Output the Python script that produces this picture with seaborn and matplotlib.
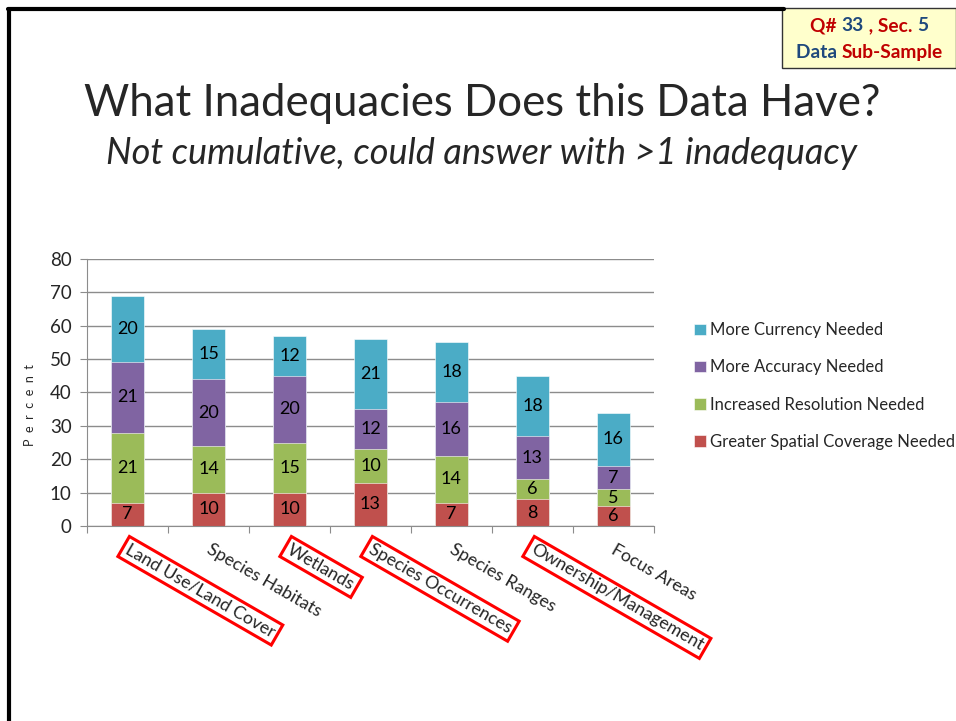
import matplotlib
matplotlib.use("Agg")
import matplotlib.pyplot as plt
from matplotlib.patches import Rectangle
import numpy as np
import pandas as pd
import seaborn as sns

# -------------------------
# Data
# -------------------------
categories = ["Land Use/Land Cover", "Species Habitats", "Wetlands",
              "Species Occurrences", "Species Ranges",
              "Ownership/Management", "Focus Areas"]
boxed = ["Land Use/Land Cover", "Wetlands", "Species Occurrences",
         "Ownership/Management"]

spatial = [7, 10, 10, 13, 7, 8, 6]        # Greater Spatial Coverage Needed
resolution = [21, 14, 15, 10, 14, 6, 5]   # Increased Resolution Needed
accuracy = [21, 20, 20, 12, 16, 13, 7]    # More Accuracy Needed
currency = [20, 15, 12, 21, 18, 18, 16]   # More Currency Needed

series_names = ["Greater Spatial Coverage Needed", "Increased Resolution Needed",
                "More Accuracy Needed", "More Currency Needed"]
series_vals = [spatial, resolution, accuracy, currency]
colors = ["#C0504D", "#9BBB59", "#8064A2", "#4BACC6"]

y_ticks = [0, 10, 20, 30, 40, 50, 60, 70, 80]

sns.set_style("white")
plt.rcParams["font.family"] = ["Lato", "DejaVu Sans"]

fig = plt.figure(figsize=(9.56, 7.21), dpi=100)
ax = fig.add_axes([0.091, 0.2705, 0.593, 0.3703])

# stacked bars: draw cumulative totals from the top layer down
cum = np.cumsum(np.array(series_vals), axis=0)
for i in range(3, -1, -1):
    df = pd.DataFrame({"cat": categories, "val": cum[i]})
    sns.barplot(data=df, x="cat", y="val", color=colors[i], width=0.4,
                saturation=1, ax=ax, label=series_names[i],
                edgecolor="white", linewidth=0.4)

# segment labels
for i in range(4):
    base = cum[i] - np.array(series_vals[i])
    for j, v in enumerate(series_vals[i]):
        ax.text(j, base[j] + v / 2, str(v), ha="center", va="center",
                fontsize=13, color="black")

ax.set_ylim(0, 80)
ax.set_xlim(-0.5, len(categories) - 0.5)
ax.set_yticks(y_ticks)
ax.yaxis.grid(True, color="#8c8c8c", linewidth=1)
ax.set_axisbelow(True)
for s in ["top", "right"]:
    ax.spines[s].set_visible(False)
for s in ["left", "bottom"]:
    ax.spines[s].set_color("#8c8c8c")
ax.tick_params(axis="y", which="both", left=True, length=5, color="#8c8c8c",
               labelsize=13.5, pad=6)
ax.set_xlabel("")
ax.set_ylabel("")

# category tick marks sit between bars
ax.set_xticks(np.arange(len(categories) + 1) - 0.5, minor=False)
ax.set_xticklabels([])
ax.tick_params(axis="x", which="major", bottom=True, length=5,
               color="#8c8c8c", direction="out")
for j, c in enumerate(categories):
    t = ax.text(j + 0.04, -4.6, c, rotation=-30, rotation_mode="anchor",
                ha="left", va="top", fontsize=12.8)
    if c in boxed:
        t.set_bbox(dict(boxstyle="square,pad=0.2", facecolor="none",
                        edgecolor="#FF0000", linewidth=2.2))

fig.text(0.031, 0.438, "P  e  r  c  e  n  t", rotation=90, ha="center",
         va="center", fontsize=9)

# legend
handles, labels = ax.get_legend_handles_labels()
ax.legend(handles, labels, loc="center left",
          bbox_to_anchor=(0.726, 0.4646), bbox_transform=fig.transFigure,
          frameon=False, fontsize=12.0, handlelength=0.7, handleheight=0.7,
          handletextpad=0.25, labelspacing=1.27, borderaxespad=0,
          borderpad=0)

# slide titles
fig.text(0.504, 0.857, "What Inadequacies Does this Data Have?",
         ha="center", va="center", fontsize=31.5)
fig.text(0.504, 0.787, "Not cumulative, could answer with >1 inadequacy",
         ha="center", va="center", fontsize=26, style="italic")

# slide frame lines
fig.add_artist(plt.Line2D([0.009, 0.009], [0, 0.988], color="black",
                          linewidth=3, transform=fig.transFigure))
fig.add_artist(plt.Line2D([0.008, 0.82], [0.988, 0.988], color="black",
                          linewidth=3, transform=fig.transFigure))

# question tag box
fig.add_artist(Rectangle((0.818, 0.906), 0.182, 0.083, transform=fig.transFigure,
                         facecolor="#FFFFCC", edgecolor="#333333", linewidth=1))

red, blue = "#C00000", "#1F497D"
renderer = fig.canvas.get_renderer()


def colored_line(xc, y, parts):
    texts = [fig.text(0, y, s, color=c, fontsize=13.8, fontweight="bold",
                      ha="left", va="center") for s, c in parts]
    widths = [t.get_window_extent(renderer).width / fig.bbox.width for t in texts]
    x = xc - sum(widths) / 2
    for t, w in zip(texts, widths):
        t.set_x(x)
        x += w


colored_line(0.909, 0.964, [("Q# ", red), ("33", blue), (" , Sec. ", red), ("5", blue)])
colored_line(0.909, 0.927, [("Data ", blue), ("Sub-Sample", red)])

fig.savefig("out.png", dpi=100)
